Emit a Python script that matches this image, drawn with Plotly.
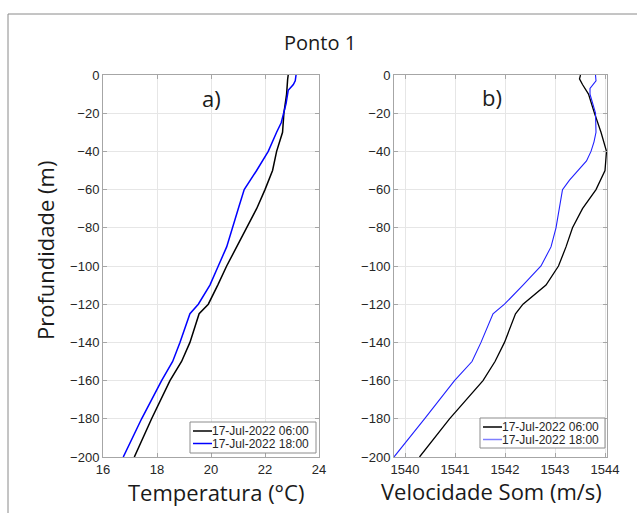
import plotly.graph_objects as go

# Temperature profiles
depth_t_06 = [0, -2, -10, -20, -30, -40, -50, -60, -70, -80, -90, -100, -110, -120, -125, -140, -150, -160, -180, -200]
temp_06 = [22.86, 22.84, 22.80, 22.70, 22.65, 22.43, 22.28, 22.00, 21.69, 21.32, 20.95, 20.58, 20.25, 19.90, 19.56, 19.22, 18.91, 18.48, 17.80, 17.16]
depth_t_18 = [0, -3, -5, -8, -15, -20, -25, -30, -40, -50, -60, -70, -80, -90, -100, -110, -120, -125, -140, -150, -160, -180, -200]
temp_18 = [23.15, 23.12, 23.05, 22.86, 22.78, 22.70, 22.60, 22.43, 22.12, 21.69, 21.23, 21.01, 20.80, 20.58, 20.27, 19.96, 19.53, 19.22, 18.85, 18.58, 18.17, 17.43, 16.75]

# Sound speed profiles
depth_v_06 = [0, -2, -5, -10, -20, -30, -40, -50, -60, -70, -80, -90, -100, -110, -120, -125, -140, -150, -160, -180, -200]
vel_06 = [1543.51, 1543.49, 1543.55, 1543.67, 1543.79, 1543.92, 1544.03, 1544.00, 1543.82, 1543.55, 1543.35, 1543.22, 1543.07, 1542.82, 1542.36, 1542.21, 1541.99, 1541.80, 1541.56, 1540.89, 1540.29]
depth_v_18 = [0, -3, -7, -10, -20, -30, -35, -40, -45, -50, -55, -60, -70, -80, -90, -100, -110, -120, -125, -140, -150, -160, -180, -200]
vel_18 = [1543.81, 1543.82, 1543.70, 1543.70, 1543.81, 1543.82, 1543.78, 1543.72, 1543.63, 1543.45, 1543.29, 1543.15, 1543.09, 1543.02, 1542.92, 1542.72, 1542.36, 1541.99, 1541.76, 1541.52, 1541.34, 1540.99, 1540.39, 1539.78]

label_06 = "17-Jul-2022 06:00"
label_18 = "17-Jul-2022 18:00"
temp_ticks = [16, 18, 20, 22, 24]
vel_ticks = [1540, 1541, 1542, 1543, 1544]
depth_ticks = [0, -20, -40, -60, -80, -100, -120, -140, -160, -180, -200]

W, H = 637, 513
BIG = "Open Sans, Noto Sans, sans-serif"
SMALL = "Liberation Sans, Arial, sans-serif"

fig = go.Figure()
fig.add_trace(go.Scatter(x=temp_06, y=depth_t_06, mode="lines", name=label_06,
                         line=dict(color="black", width=1.5), xaxis="x", yaxis="y"))
fig.add_trace(go.Scatter(x=temp_18, y=depth_t_18, mode="lines", name=label_18,
                         line=dict(color="#0000ff", width=1.5), xaxis="x", yaxis="y"))
fig.add_trace(go.Scatter(x=vel_06, y=depth_v_06, mode="lines", name=label_06,
                         line=dict(color="black", width=1.3), xaxis="x2", yaxis="y2"))
fig.add_trace(go.Scatter(x=vel_18, y=depth_v_18, mode="lines", name=label_18,
                         line=dict(color="#2020ff", width=1.1), xaxis="x2", yaxis="y2"))

x1 = (103 / W, 319 / W)
x2 = (394 / W, 607 / W)
yd = (1 - 457 / H, 1 - 75 / H)

axcommon = dict(showgrid=True, gridcolor="#e6e6e6", gridwidth=1, zeroline=False,
                showline=True, linecolor="#a6a6a6", linewidth=1, mirror="ticks",
                ticks="inside", ticklen=4, tickcolor="#a6a6a6", automargin=False,
                tickfont=dict(family=SMALL, size=13, color="#262626"))

fig.update_layout(
    width=W, height=H, margin=dict(l=0, r=0, t=0, b=0, autoexpand=False),
    paper_bgcolor="white", plot_bgcolor="white", showlegend=False,
    xaxis=dict(domain=x1, range=[16, 24], tickvals=temp_ticks, anchor="y", **axcommon),
    yaxis=dict(domain=yd, range=[-200, 0], tickvals=depth_ticks, anchor="x", **axcommon),
    xaxis2=dict(domain=x2, range=[1539.78, 1544.04], tickvals=vel_ticks, anchor="y2", **axcommon),
    yaxis2=dict(domain=yd, range=[-200, 0], tickvals=depth_ticks, anchor="x2", **axcommon),
)

def px(x):
    return x / W

def py(y):
    return 1 - y / H

fig.add_shape(type="rect", xref="paper", yref="paper",
              x0=px(8), x1=1.05, y0=-0.05, y1=py(14),
              line=dict(color="#8a8a8a", width=1), fillcolor="rgba(0,0,0,0)", layer="below")

def ann(text, x, y, size, angle=0, fam=BIG, anchor="center", color="#1a1a1a"):
    fig.add_annotation(text=text, xref="paper", yref="paper", x=px(x), y=py(y),
                       showarrow=False, textangle=angle, xanchor=anchor, yanchor="middle",
                       font=dict(family=fam, size=size, color=color))

ann("Ponto 1", 320, 42, 20)
ann("Profundidade (m)", 45, 251, 22, angle=-90)
ann("Temperatura (°C)", 216, 492, 22)
ann("Velocidade Som (m/s)", 492, 491, 22)
ann("a)", 211, 98, 22)
ann("b)", 492, 97, 22)

# Manual legends (MATLAB style boxes)
def legend_box(bx0, bx1, by0, by1, rows, labels, colors):
    fig.add_shape(type="rect", xref="paper", yref="paper",
                  x0=px(bx0), x1=px(bx1), y0=py(by1), y1=py(by0),
                  line=dict(color="#8c8c8c", width=1), fillcolor="white")
    for ry, lab, col in zip(rows, labels, colors):
        fig.add_shape(type="line", xref="paper", yref="paper",
                      x0=px(bx0 + 3), x1=px(bx0 + 22), y0=py(ry), y1=py(ry),
                      line=dict(color=col, width=1.5))
        ann(lab, bx0 + 20, ry, 12, fam=SMALL, anchor="left", color="#262626")

legend_box(190, 316, 422, 453, [431, 443.5], [label_06, label_18], ["black", "#0000ff"])
legend_box(480, 605, 418, 448, [427, 439.5], [label_06, label_18], ["black", "#7f7fff"])

fig.write_html("out.html")
